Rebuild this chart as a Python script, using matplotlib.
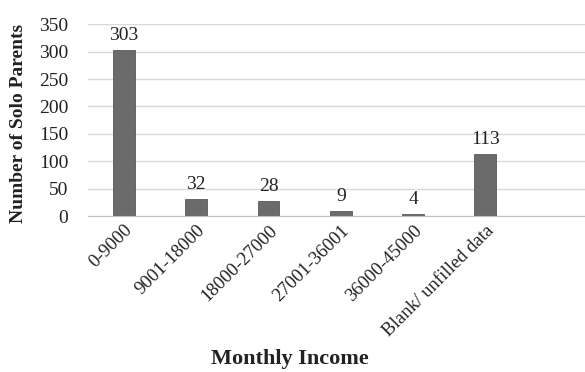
import matplotlib.pyplot as plt

plt.rcParams['font.family'] = ['Liberation Serif', 'DejaVu Serif']

# data
categories = ['0-9000', '9001-18000', '18000-27000', '27001-36001',
              '36000-45000', 'Blank/ unfilled data']
counts = [303, 32, 28, 9, 4, 113]
yticks = [0, 50, 100, 150, 200, 250, 300, 350]

fig = plt.figure(figsize=(5.85, 3.72), dpi=100)
ax = fig.add_axes([0.150, 0.419, 0.865, 0.516])

x = list(range(len(categories)))
ax.bar(x, counts, width=0.3, color='#6b6b6b', edgecolor='#5a5a5a', linewidth=0.6, zorder=3)

for xi, c in zip(x, counts):
    ax.text(xi, c + 11, str(c), ha='center', va='bottom', fontsize=14, color='#222222')

ax.set_xlim(-0.5, 6.5)
ax.set_ylim(0, 350)
ax.set_yticks(yticks)
ax.set_xticks(x)
ax.set_xticklabels(categories, rotation=45, ha='right', rotation_mode='anchor', fontsize=13.5)
ax.tick_params(axis='y', length=0, labelsize=14, pad=14)
ax.tick_params(axis='x', length=0, pad=4)
for lab in ax.get_xticklabels():
    lab.set_color('#222222')
for lab in ax.get_yticklabels():
    lab.set_color('#222222')

ax.grid(axis='y', color='#d9d9d9', linewidth=1, zorder=0)
for s in ['top', 'right', 'left']:
    ax.spines[s].set_visible(False)
ax.spines['bottom'].set_color('#bfbfbf')
ax.spines['bottom'].set_zorder(4)

fig.text(0.031, 0.668, 'Number of Solo Parents', rotation=90, ha='center', va='center',
         fontsize=14, fontweight='bold', color='#222222')
fig.text(0.496, 0.008, 'Monthly Income', ha='center', va='bottom',
         fontsize=16, fontweight='bold', color='#222222')

plt.savefig('out.png', dpi=100)
